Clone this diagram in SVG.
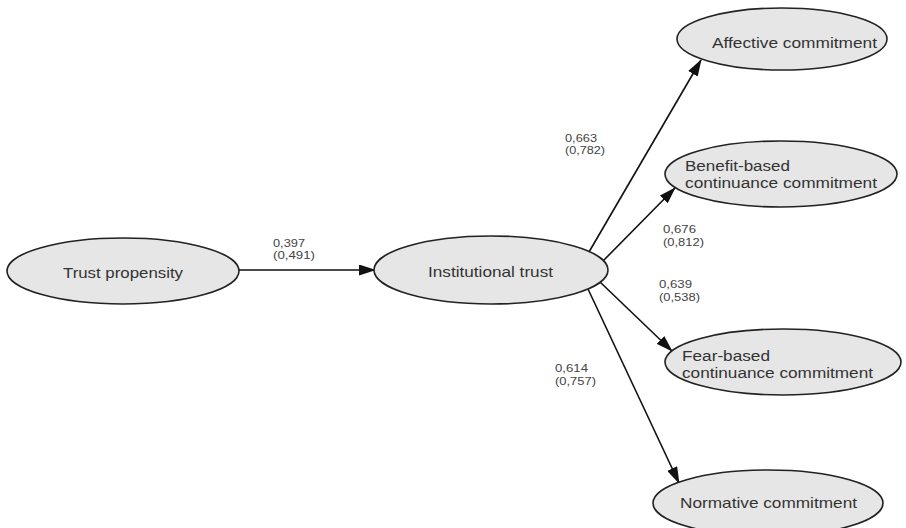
<svg xmlns="http://www.w3.org/2000/svg" width="906" height="528" viewBox="0 0 906 528">
<style>
.node ellipse{fill:#e6e6e6;stroke:#222;stroke-width:1.6}
.node text{font-family:"Liberation Sans",Arial,sans-serif;font-size:15px;fill:#333}
.node text.two{font-size:14px}
.lbl{font-family:"Liberation Sans",Arial,sans-serif;font-size:11.5px;fill:#444}
.edge{stroke:#111;stroke-width:1.6;fill:none;marker-end:url(#ah)}
</style>
<defs>
<marker id="ah" markerUnits="userSpaceOnUse" markerWidth="17" markerHeight="11" refX="16" refY="5.5" orient="auto">
<path d="M0,0 L17,5.5 L0,11 z" fill="#111"/>
</marker>
</defs>
<rect width="906" height="528" fill="#fff"/>
<g id="edges">
<line class="edge" x1="239" y1="270" x2="375" y2="270"/>
<line class="edge" x1="589" y1="252" x2="701" y2="60"/>
<line class="edge" x1="603" y1="261" x2="675" y2="188"/>
<line class="edge" x1="600" y1="282" x2="672" y2="351"/>
<line class="edge" x1="588" y1="289" x2="679" y2="483"/>
</g>
<g id="labels">
<text class="lbl" x="273" y="247" textLength="32" lengthAdjust="spacingAndGlyphs">0,397</text>
<text class="lbl" x="273" y="259" textLength="42" lengthAdjust="spacingAndGlyphs">(0,491)</text>
<text class="lbl" x="565" y="142" textLength="32" lengthAdjust="spacingAndGlyphs">0,663</text>
<text class="lbl" x="565" y="154" textLength="40" lengthAdjust="spacingAndGlyphs">(0,782)</text>
<text class="lbl" x="663" y="233" textLength="33" lengthAdjust="spacingAndGlyphs">0,676</text>
<text class="lbl" x="663" y="246" textLength="41" lengthAdjust="spacingAndGlyphs">(0,812)</text>
<text class="lbl" x="659" y="288" textLength="33" lengthAdjust="spacingAndGlyphs">0,639</text>
<text class="lbl" x="659" y="301" textLength="41" lengthAdjust="spacingAndGlyphs">(0,538)</text>
<text class="lbl" x="555" y="372" textLength="33" lengthAdjust="spacingAndGlyphs">0,614</text>
<text class="lbl" x="555" y="385" textLength="41" lengthAdjust="spacingAndGlyphs">(0,757)</text>
</g>
<g id="trust-propensity" class="node">
<ellipse cx="123" cy="271" rx="116" ry="33"/>
<text x="63" y="278" textLength="120" lengthAdjust="spacingAndGlyphs">Trust propensity</text>
</g>
<g id="institutional-trust" class="node">
<ellipse cx="491" cy="270" rx="117" ry="34"/>
<text x="428" y="277" textLength="125" lengthAdjust="spacingAndGlyphs">Institutional trust</text>
</g>
<g id="affective-commitment" class="node">
<ellipse cx="782" cy="39" rx="105" ry="31"/>
<text x="712" y="48" textLength="165" lengthAdjust="spacingAndGlyphs">Affective commitment</text>
</g>
<g id="benefit-based" class="node">
<ellipse cx="781" cy="174" rx="116" ry="33"/>
<text class="two" x="685" y="171" textLength="105" lengthAdjust="spacingAndGlyphs">Benefit-based</text>
<text class="two" x="685" y="188" textLength="192" lengthAdjust="spacingAndGlyphs">continuance commitment</text>
</g>
<g id="fear-based" class="node">
<ellipse cx="783" cy="362" rx="118" ry="33"/>
<text class="two" x="682" y="361" textLength="88" lengthAdjust="spacingAndGlyphs">Fear-based</text>
<text class="two" x="682" y="378" textLength="191" lengthAdjust="spacingAndGlyphs">continuance commitment</text>
</g>
<g id="normative-commitment" class="node">
<ellipse cx="768" cy="503" rx="115" ry="33"/>
<text x="680" y="508" textLength="177" lengthAdjust="spacingAndGlyphs">Normative commitment</text>
</g>
</svg>
